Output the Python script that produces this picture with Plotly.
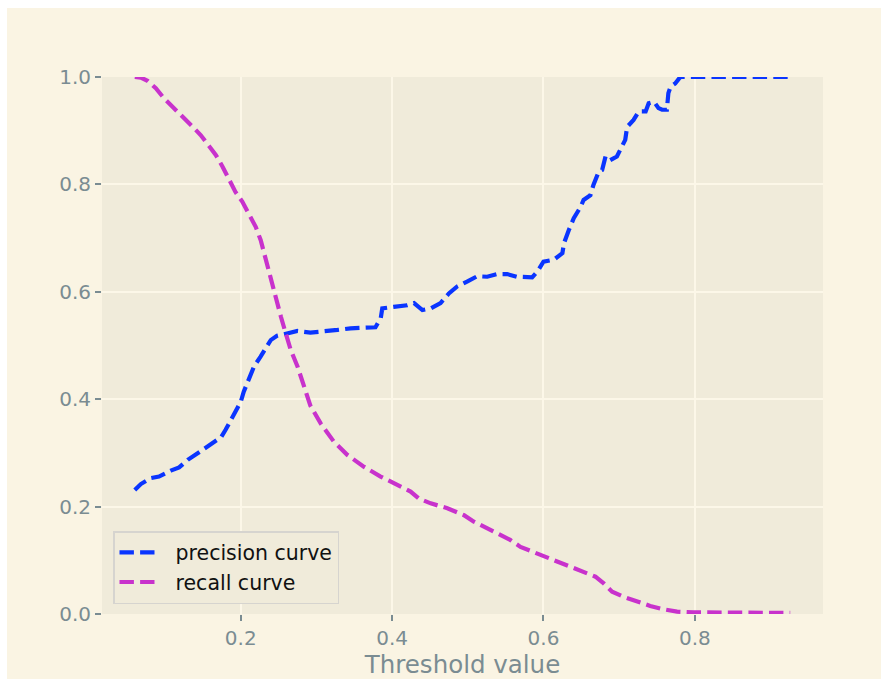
import plotly.graph_objects as go

# Precision curve (threshold, precision)
prec_x = [0.060, 0.068, 0.081, 0.092, 0.1076, 0.1186, 0.130, 0.147, 0.160, 0.174, 0.180, 0.1846,
          0.193, 0.200, 0.204, 0.209, 0.2176, 0.226, 0.233, 0.2396, 0.248, 0.262, 0.275, 0.292,
          0.310, 0.328, 0.345, 0.363, 0.378, 0.385, 0.387, 0.402, 0.420, 0.429, 0.4354, 0.440,
          0.451, 0.464, 0.475, 0.486, 0.499, 0.5125, 0.5257, 0.539, 0.552, 0.565, 0.585, 0.592,
          0.600, 0.614, 0.625, 0.627, 0.6335, 0.640, 0.649, 0.653, 0.662, 0.666, 0.673, 0.6775,
          0.682, 0.688, 0.697, 0.7017, 0.708, 0.7105, 0.719, 0.726, 0.735, 0.739, 0.746, 0.752,
          0.7567, 0.763, 0.765, 0.768, 0.774, 0.779, 0.781, 0.926]
prec_y = [0.231, 0.242, 0.253, 0.256, 0.267, 0.273, 0.287, 0.304, 0.315, 0.329, 0.343, 0.355,
          0.377, 0.395, 0.414, 0.430, 0.461, 0.479, 0.495, 0.510, 0.518, 0.523, 0.527, 0.524,
          0.526, 0.529, 0.532, 0.534, 0.534, 0.551, 0.569, 0.572, 0.575, 0.579, 0.572, 0.566,
          0.569, 0.579, 0.597, 0.610, 0.619, 0.629, 0.628, 0.633, 0.633, 0.628, 0.627, 0.638,
          0.656, 0.660, 0.672, 0.690, 0.715, 0.737, 0.758, 0.771, 0.780, 0.799, 0.824, 0.827,
          0.852, 0.845, 0.852, 0.864, 0.883, 0.907, 0.920, 0.936, 0.936, 0.951, 0.954, 0.942,
          0.939, 0.939, 0.970, 0.982, 0.988, 0.997, 1.000, 1.000]

# Recall curve (threshold, recall)
rec_x = [0.060, 0.068, 0.0768, 0.0878, 0.0988, 0.110, 0.123, 0.136, 0.147, 0.158, 0.167, 0.176,
         0.1846, 0.193, 0.202, 0.211, 0.2198, 0.2264, 0.233, 0.2396, 0.246, 0.253, 0.2594, 0.266,
         0.275, 0.284, 0.292, 0.3056, 0.323, 0.341, 0.363, 0.3848, 0.407, 0.4244, 0.4354, 0.451,
         0.473, 0.495, 0.508, 0.5257, 0.543, 0.556, 0.5696, 0.596, 0.6136, 0.6356, 0.649, 0.6686,
         0.6796, 0.6907, 0.706, 0.7236, 0.741, 0.759, 0.7765, 0.798, 0.834, 0.878, 0.926]
rec_y = [1.000, 0.999, 0.993, 0.979, 0.960, 0.945, 0.926, 0.908, 0.892, 0.873, 0.855, 0.833,
         0.811, 0.786, 0.768, 0.746, 0.721, 0.696, 0.660, 0.622, 0.591, 0.554, 0.523, 0.492,
         0.461, 0.425, 0.388, 0.355, 0.321, 0.296, 0.274, 0.256, 0.240, 0.228, 0.215, 0.206,
         0.197, 0.184, 0.172, 0.160, 0.147, 0.138, 0.125, 0.110, 0.1006, 0.088, 0.079, 0.0695,
         0.057, 0.0415, 0.032, 0.023, 0.015, 0.0087, 0.0043, 0.003, 0.0025, 0.0022, 0.002]

x_tickvals = [0.2, 0.4, 0.6, 0.8]
y_tickvals = [0.0, 0.2, 0.4, 0.6, 0.8, 1.0]

OUTER = "#FAF4E3"
AXBG = "#F0EBDA"
GRID = "#FCF7E8"
TICK = "#7a8c92"
FONT = "DejaVu Sans"
NB = "\u00a0\u00a0"

fig = go.Figure()
fig.add_trace(go.Scatter(x=prec_x, y=prec_y, mode="lines", name=NB + "precision curve",
                         line=dict(color="#0a35ff", width=4.2, dash="14.4px,6.2px")))
fig.add_trace(go.Scatter(x=rec_x, y=rec_y, mode="lines", name=NB + "recall curve",
                         line=dict(color="#c832cc", width=4.2, dash="14.4px,6.2px")))

L, R, T, B = 102, 58, 77, 65
W, H = 881, 679
pw, ph = W - L - R, H - T - B

fig.update_layout(
    width=W, height=H,
    margin=dict(l=L, r=R, t=T, b=B),
    paper_bgcolor=OUTER, plot_bgcolor=AXBG,
    font=dict(family=FONT, size=20, color=TICK),
    showlegend=True,
    legend=dict(x=(113 - L) / pw, y=(614 - 604) / ph, xanchor="left", yanchor="bottom",
                bgcolor=AXBG, bordercolor="#d6d4cf", borderwidth=1.5,
                font=dict(family=FONT, size=20.5, color="#111111"),
                itemwidth=38),
    xaxis=dict(range=[0.0167, 0.9693], tickvals=x_tickvals, ticktext=["0.2", "0.4", "0.6", "0.8"],
               showgrid=True, gridcolor=GRID, gridwidth=2, zeroline=False, showline=False,
               automargin=False,
               ticks="outside", ticklen=6, tickwidth=1.5, tickcolor=TICK,
               tickfont=dict(family=FONT, size=20, color=TICK),
               title=dict(text="Threshold value", font=dict(family=FONT, size=24.5, color=TICK),
                          standoff=11)),
    yaxis=dict(range=[0, 1], tickvals=y_tickvals, ticktext=["0.0", "0.2", "0.4", "0.6", "0.8", "1.0"],
               showgrid=True, gridcolor=GRID, gridwidth=2, zeroline=False, showline=False,
               automargin=False,
               ticks="outside", ticklen=6, tickwidth=1.5, tickcolor=TICK,
               tickfont=dict(family=FONT, size=20, color=TICK)),
    shapes=[
        dict(type="rect", xref="paper", yref="paper", x0=-1, x1=(7 - L) / pw, y0=-1, y1=3,
             fillcolor="white", line=dict(width=0), layer="above"),
        dict(type="rect", xref="paper", yref="paper", x0=-1, x1=3, y0=1 + (T - 8) / ph, y1=3,
             fillcolor="white", line=dict(width=0), layer="above"),
    ],
)

fig.write_html("out.html")
